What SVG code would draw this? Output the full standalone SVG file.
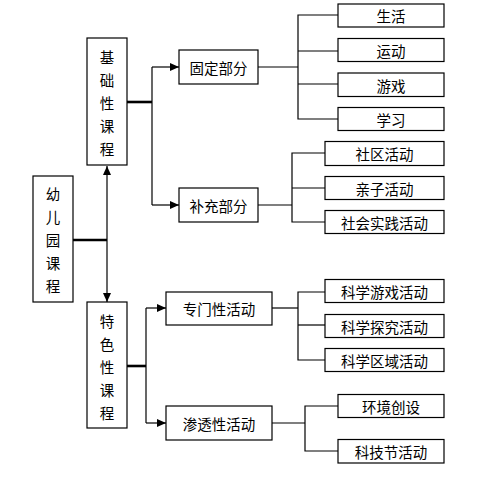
<svg xmlns="http://www.w3.org/2000/svg" width="489" height="491" viewBox="0 0 489 491">
<style>
rect{fill:#fff;stroke:#000;stroke-width:1.2}
text{font-family:"Noto Sans CJK SC","Noto Sans CJK JP",sans-serif;font-size:14.5px;fill:#000;text-anchor:middle;dominant-baseline:central}
.c line,.c polyline{stroke:#000;stroke-width:1.2;fill:none}
.c .t{stroke-width:2.6}
</style>
<defs>
<marker id="a" markerUnits="userSpaceOnUse" markerWidth="10" markerHeight="10" refX="9" refY="4" orient="auto"><path d="M0,0 L9,4 L0,8 z" fill="#000"/></marker>
</defs>
<rect x="0" y="0" width="489" height="491" style="stroke:none"/>
<g class="c" id="connectors">
<line class="t" x1="73" y1="240" x2="107" y2="240"/>
<line x1="107" y1="240" x2="107" y2="166" marker-end="url(#a)"/>
<line x1="107" y1="240" x2="107" y2="302" marker-end="url(#a)"/>
<line class="t" x1="127" y1="102" x2="152" y2="102"/>
<line x1="152" y1="67" x2="152" y2="205"/>
<line x1="152" y1="67" x2="179" y2="67" marker-end="url(#a)"/>
<line x1="152" y1="205" x2="179" y2="205" marker-end="url(#a)"/>
<line class="t" x1="127" y1="366" x2="146" y2="366"/>
<line x1="146" y1="308" x2="146" y2="423"/>
<line x1="146" y1="308" x2="166" y2="308" marker-end="url(#a)"/>
<line x1="146" y1="423" x2="166" y2="423" marker-end="url(#a)"/>
<line x1="258" y1="67" x2="298" y2="67"/>
<polyline points="338,15 298,15 298,119 338,119"/>
<line x1="298" y1="51" x2="338" y2="51"/>
<line x1="298" y1="84" x2="338" y2="84"/>
<line x1="258" y1="205" x2="292" y2="205"/>
<polyline points="325,153 292,153 292,222 325,222"/>
<line x1="292" y1="188" x2="325" y2="188"/>
<line x1="272" y1="308" x2="298" y2="308"/>
<polyline points="325,292 298,292 298,360 325,360"/>
<line x1="298" y1="325" x2="325" y2="325"/>
<line x1="272" y1="423" x2="305" y2="423"/>
<polyline points="338,406 305,406 305,451 338,451"/>
</g>
<g id="n-root"><rect x="33" y="176" width="40" height="126"/>
<text x="53" y="193">幼</text><text x="53" y="216">儿</text><text x="53" y="239">园</text><text x="53" y="262">课</text><text x="53" y="285">程</text></g>
<g id="n-jichu"><rect x="87" y="38" width="40" height="127"/>
<text x="107" y="56">基</text><text x="107" y="79">础</text><text x="107" y="102">性</text><text x="107" y="125">课</text><text x="107" y="148">程</text></g>
<g id="n-tese"><rect x="87" y="302" width="40" height="126"/>
<text x="107" y="320">特</text><text x="107" y="343">色</text><text x="107" y="366">性</text><text x="107" y="389">课</text><text x="107" y="412">程</text></g>
<g id="n-guding"><rect x="179" y="50" width="79" height="34"/><text x="218.5" y="67">固定部分</text></g>
<g id="n-buchong"><rect x="179" y="188" width="79" height="34"/><text x="218.5" y="205">补充部分</text></g>
<g id="n-zhuanmen"><rect x="166" y="292" width="106" height="33"/><text x="219" y="308.5">专门性活动</text></g>
<g id="n-shentou"><rect x="166" y="406" width="106" height="34"/><text x="219" y="423">渗透性活动</text></g>
<g id="n-shenghuo"><rect x="338" y="4" width="106" height="23"/><text x="391" y="15.5">生活</text></g>
<g id="n-yundong"><rect x="338" y="38.5" width="106" height="23"/><text x="391" y="50">运动</text></g>
<g id="n-youxi"><rect x="338" y="73" width="106" height="23.5"/><text x="391" y="85">游戏</text></g>
<g id="n-xuexi"><rect x="338" y="107.5" width="106" height="23"/><text x="391" y="119">学习</text></g>
<g id="n-shequ"><rect x="325" y="141.5" width="119" height="24"/><text x="384.5" y="153.5">社区活动</text></g>
<g id="n-qinzi"><rect x="325" y="176.5" width="119" height="23"/><text x="384.5" y="188">亲子活动</text></g>
<g id="n-shehui"><rect x="325" y="210.5" width="119" height="23"/><text x="384.5" y="222">社会实践活动</text></g>
<g id="n-kxyx"><rect x="325" y="279.5" width="119" height="23"/><text x="384.5" y="291">科学游戏活动</text></g>
<g id="n-kxtj"><rect x="325" y="314.5" width="119" height="23"/><text x="384.5" y="326">科学探究活动</text></g>
<g id="n-kxqy"><rect x="325" y="348.5" width="119" height="23"/><text x="384.5" y="360">科学区域活动</text></g>
<g id="n-hjcs"><rect x="338" y="394.5" width="106" height="23"/><text x="391" y="406">环境创设</text></g>
<g id="n-kjj"><rect x="338" y="439.5" width="106" height="23.5"/><text x="391" y="451">科技节活动</text></g>
</svg>
